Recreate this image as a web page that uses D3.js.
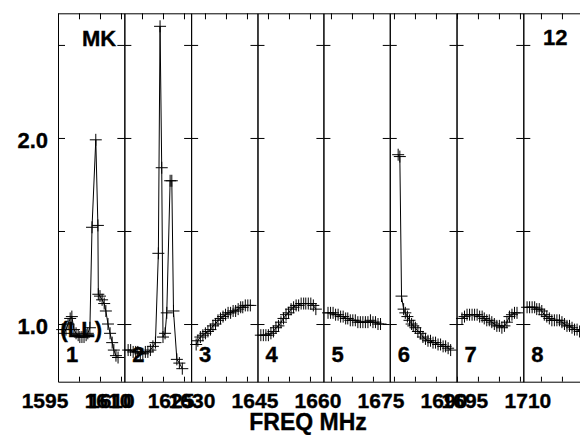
<!DOCTYPE html>
<html>
<head>
<meta charset="utf-8">
<script src="https://cdn.jsdelivr.net/npm/d3@7"></script>
<style>
body { margin: 0; background: #fff; }
text { font-family: "Liberation Sans", Arial, sans-serif; font-weight: bold; fill: #000; stroke: #000; stroke-width: 0.35px; }
</style>
</head>
<body>
<svg width="580" height="435"></svg>
<script>
// panel boundaries on the frequency axis (MHz)
const panelEdges = [1595, 1610.8, 1626.7, 1642.5, 1658.2, 1674.0, 1689.9, 1705.8];
const panelNames = ['1', '2', '3', '4', '5', '6', '7', '8'];

// spectra, one per panel: frequency and ratio
const freq1 = [1596.0, 1596.4, 1596.9, 1597.4, 1597.9, 1598.3, 1598.8, 1599.3, 1599.8, 1600.2, 1600.7, 1601.2, 1601.7, 1602.1, 1602.6, 1603.1, 1604.0, 1604.5, 1604.6, 1605.0, 1605.5, 1606.0, 1606.4, 1606.9, 1607.4, 1607.9, 1608.3, 1608.8, 1609.3];
const ratio1 = [0.97, 0.95, 0.97, 1.00, 1.03, 1.04, 0.97, 0.95, 0.94, 0.93, 0.93, 0.93, 0.94, 0.95, 0.98, 1.52, 1.99, 1.53, 1.16, 1.15, 1.13, 1.11, 1.07, 1.00, 0.95, 0.90, 0.86, 0.83, 0.82];

const freq2 = [1611.7, 1612.3, 1612.9, 1613.5, 1614.0, 1614.6, 1615.2, 1615.8, 1616.4, 1617.0, 1617.6, 1618.2, 1618.9, 1619.3, 1619.7, 1620.0, 1620.5, 1620.9, 1621.7, 1622.1, 1622.5, 1623.3, 1623.9, 1624.6];
const ratio2 = [0.86, 0.86, 0.85, 0.85, 0.85, 0.84, 0.84, 0.85, 0.85, 0.86, 0.88, 0.90, 1.38, 2.60, 1.84, 0.93, 0.95, 1.06, 1.77, 1.77, 1.07, 0.81, 0.79, 0.76];

const freq3 = [1627.9, 1628.3, 1628.9, 1629.5, 1630.1, 1630.7, 1631.3, 1631.9, 1632.5, 1633.1, 1633.7, 1634.3, 1634.9, 1635.5, 1636.1, 1636.7, 1637.3, 1637.9, 1638.5, 1639.0, 1639.6, 1640.2, 1640.8];
const ratio3 = [0.89, 0.91, 0.93, 0.94, 0.95, 0.96, 0.97, 0.99, 1.00, 1.02, 1.03, 1.04, 1.05, 1.06, 1.06, 1.07, 1.07, 1.08, 1.09, 1.09, 1.10, 1.10, 1.10];

const freq4 = [1643.3, 1643.9, 1644.5, 1645.1, 1645.7, 1646.3, 1646.9, 1647.5, 1648.1, 1648.7, 1649.3, 1649.9, 1650.5, 1651.1, 1651.7, 1652.3, 1652.9, 1653.5, 1654.0, 1654.6, 1655.2, 1655.8, 1656.4];
const ratio4 = [0.94, 0.94, 0.94, 0.94, 0.95, 0.96, 0.98, 0.99, 1.01, 1.03, 1.05, 1.06, 1.08, 1.09, 1.10, 1.10, 1.11, 1.11, 1.11, 1.11, 1.11, 1.10, 1.08];

const freq5 = [1659.3, 1659.9, 1660.5, 1661.1, 1661.7, 1662.3, 1662.9, 1663.5, 1664.0, 1664.6, 1665.2, 1665.8, 1666.4, 1667.0, 1667.6, 1668.2, 1668.8, 1669.4, 1670.0, 1670.6, 1671.2, 1671.8];
const ratio5 = [1.06, 1.06, 1.06, 1.05, 1.05, 1.04, 1.04, 1.03, 1.03, 1.02, 1.02, 1.02, 1.01, 1.01, 1.01, 1.01, 1.01, 1.02, 1.01, 1.01, 1.00, 1.00];

const freq6 = [1676.0, 1676.4, 1676.8, 1677.3, 1677.7, 1678.2, 1678.7, 1679.2, 1679.6, 1680.1, 1680.7, 1681.3, 1681.9, 1682.5, 1683.1, 1683.7, 1684.3, 1684.9, 1685.5, 1686.1, 1686.7, 1687.3, 1687.9, 1688.5];
const ratio6 = [1.91, 1.90, 1.15, 1.08, 1.06, 1.04, 1.02, 1.00, 0.99, 0.98, 0.96, 0.95, 0.93, 0.92, 0.91, 0.91, 0.90, 0.90, 0.89, 0.89, 0.88, 0.88, 0.87, 0.86];

const freq7 = [1691.2, 1691.8, 1692.4, 1693.0, 1693.6, 1694.2, 1694.8, 1695.4, 1696.0, 1696.5, 1697.1, 1697.7, 1698.3, 1698.9, 1699.5, 1700.1, 1700.7, 1701.3, 1701.9, 1702.5, 1703.1, 1703.7, 1704.3];
const ratio7 = [1.03, 1.04, 1.05, 1.05, 1.05, 1.05, 1.05, 1.04, 1.04, 1.03, 1.02, 1.02, 1.01, 1.00, 0.99, 0.99, 0.98, 0.99, 1.01, 1.04, 1.05, 1.06, 1.06];

const freq8 = [1706.7, 1707.3, 1707.9, 1708.5, 1709.0, 1709.6, 1710.2, 1710.8, 1711.4, 1712.0, 1712.6, 1713.2, 1713.8, 1714.4, 1715.0, 1715.6, 1716.2, 1716.8, 1717.4, 1718.0, 1718.6, 1719.2, 1719.8];
const ratio8 = [1.09, 1.09, 1.09, 1.09, 1.08, 1.08, 1.07, 1.05, 1.04, 1.03, 1.02, 1.02, 1.02, 1.02, 1.01, 1.00, 0.99, 0.99, 0.98, 0.97, 0.97, 0.96, 0.96];

// bottom labels, as printed (some overlap in the original)
const tickLabelFreq = [1595, 1610, 1610.8, 1625, 1630, 1645, 1660, 1675, 1690, 1695, 1710];
const tickLabelText = ['1595', '1610', '1610', '1625', '1630', '1645', '1660', '1675', '1690', '1695', '1710'];
const yTickValues = [1.0, 1.5, 2.0, 2.5];
const yLabelValues = [1.0, 2.0];

const svg = d3.select('svg');
const plotTop = 13.3, plotBottom = 381.7;

const x = d3.scaleLinear().domain([1595, 1719.3]).range([58, 580]);
const y = d3.scaleLinear().domain([0.69, 2.67]).range([plotBottom, plotTop]);

const spectra = [
    [freq1, ratio1], [freq2, ratio2], [freq3, ratio3], [freq4, ratio4],
    [freq5, ratio5], [freq6, ratio6], [freq7, ratio7], [freq8, ratio8]
];

// top and bottom axes, 5 MHz ticks pointing inward
const minorTicks = d3.range(1595, 1720, 5);
svg.append('g')
    .attr('transform', `translate(0,${plotTop})`)
    .call(d3.axisTop(x).tickValues(minorTicks).tickSize(-6).tickSizeOuter(0).tickFormat(''));
svg.append('g')
    .attr('transform', `translate(0,${plotBottom})`)
    .call(d3.axisBottom(x).tickValues(minorTicks).tickSize(-5).tickSizeOuter(0).tickFormat(''));

// each panel edge is a y axis with ticks on both sides
panelEdges.forEach((f, i) => {
    const g = svg.append('g').attr('transform', `translate(${x(f)},0)`);
    g.call(d3.axisLeft(y).tickValues(yTickValues).tickSize(i === 0 ? -7 : 7).tickSizeOuter(0).tickFormat(''));
    if (i > 0) {
        g.append('g').call(d3.axisRight(y).tickValues(yTickValues).tickSize(7).tickSizeOuter(0).tickFormat(''));
    }
});
svg.selectAll('.domain, .tick line').attr('stroke', '#000').attr('stroke-width', 1);

// spectra: line plus "+" markers
const line = d3.line().x(d => x(d[0])).y(d => y(d[1]));
spectra.forEach(([fs, rs]) => {
    const pts = fs.map((f, i) => [f, rs[i]]);
    svg.append('path')
        .datum(pts)
        .attr('d', line)
        .attr('fill', 'none')
        .attr('stroke', '#000')
        .attr('stroke-width', 1);
    svg.append('g').selectAll('path').data(pts)
        .enter().append('path')
            .attr('transform', d => `translate(${x(d[0])},${y(d[1])})`)
            .attr('d', 'M-6,0H6M0,-6V6')
            .attr('stroke', '#000')
            .attr('stroke-width', 1);
});

// panel numbers
svg.selectAll('.pnum').data(panelEdges)
    .enter().append('text')
        .attr('class', 'pnum')
        .attr('x', d => x(d) + 8)
        .attr('y', 361.5)
        .style('font-size', '22px')
        .text((d, i) => panelNames[i]);

// tick labels
svg.selectAll('.xlab').data(tickLabelFreq)
    .enter().append('text')
        .attr('class', 'xlab')
        .attr('x', d => x(d) - 13)
        .attr('y', 408)
        .attr('text-anchor', 'middle')
        .style('font-size', '21px')
        .text((d, i) => tickLabelText[i]);

svg.selectAll('.ylab').data(yLabelValues)
    .enter().append('text')
        .attr('class', 'ylab')
        .attr('x', 48)
        .attr('y', d => y(d) + 10)
        .attr('text-anchor', 'end')
        .style('font-size', '22px')
        .text(d => d.toFixed(1));

svg.append('text').attr('x', 308).attr('y', 430).attr('text-anchor', 'middle')
    .style('font-size', '23px').text('FREQ MHz');
svg.append('text').attr('x', 82).attr('y', 45.5).style('font-size', '22px').text('MK');
svg.append('text').attr('x', 543).attr('y', 45).style('font-size', '22px').text('12');
svg.append('text').attr('x', 60.5).attr('y', 336.5).style('font-size', '22px').text('(LL)');
</script>
</body>
</html>
